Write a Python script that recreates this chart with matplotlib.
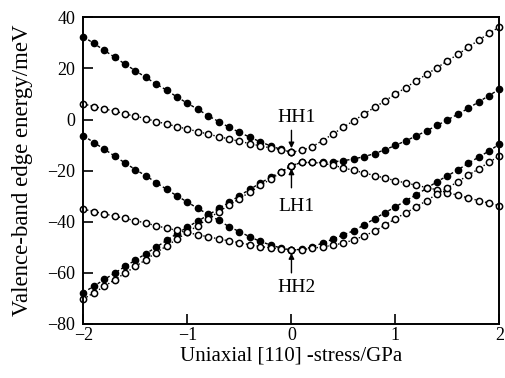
import numpy as np
import matplotlib
matplotlib.use("Agg")
import matplotlib.pyplot as plt

plt.rcParams['font.family'] = ['Liberation Serif', 'DejaVu Serif']

# stress grid, GPa (0.1 GPa steps)
stress_neg = np.round(np.linspace(-2.0, 0.0, 21), 1)
stress_pos = np.round(np.linspace(0.0, 2.0, 21), 1)

# compressive side (stress < 0), energies in meV
filled_hh1_neg = [32.4, 29.8, 27.1, 24.4, 21.7, 19.1, 16.5, 13.9, 11.5, 8.8, 6.4,
                  4.0, 1.5, -0.8, -3.0, -5.0, -6.9, -8.7, -10.3, -11.7, -12.8]
open_hh1_neg = [6.1, 5.1, 4.2, 3.3, 2.2, 1.3, 0.4, -0.8, -1.7, -2.8, -3.7,
                -4.7, -5.7, -6.7, -7.6, -8.5, -9.4, -10.3, -11.1, -11.9, -12.7]
filled_hh2_neg = [-6.3, -9.0, -11.6, -14.3, -17.0, -19.6, -22.0, -24.7, -27.3, -29.9, -32.3,
                  -34.8, -37.1, -39.5, -41.9, -43.9, -45.9, -47.7, -49.1, -50.3, -51.0]
open_hh2_neg = [-35.1, -36.0, -36.9, -37.8, -38.7, -39.6, -40.5, -41.6, -42.5, -43.4, -44.2,
                -45.1, -45.9, -46.7, -47.5, -48.2, -49.0, -49.7, -50.2, -50.6, -51.0]
filled_lh1_neg = [-67.7, -65.2, -62.6, -60.1, -57.5, -55.0, -52.5, -49.9, -47.3, -44.6, -42.1,
                  -39.7, -37.4, -34.8, -32.4, -29.8, -27.3, -24.9, -22.5, -20.5, -18.0]
open_lh1_neg = [-70.2, -67.8, -65.3, -62.7, -60.1, -57.5, -54.8, -52.1, -49.4, -46.8, -44.1,
                -41.5, -38.8, -36.1, -33.5, -30.9, -28.4, -25.8, -23.3, -20.7, -18.0]

# tensile side (stress > 0)
open_hh1_pos = [-12.7, -12.1, -10.6, -8.2, -5.6, -3.0, -0.4, 2.2, 4.8, 7.3, 10.0,
                12.5, 15.2, 17.7, 20.3, 23.0, 25.5, 28.3, 31.1, 33.7, 36.3]
filled_lh1_pos = [-18.0, -16.8, -16.8, -16.8, -16.5, -16.1, -15.4, -14.5, -13.3, -11.8, -10.1,
                  -8.3, -6.4, -4.4, -2.3, -0.1, 2.1, 4.4, 6.9, 9.4, 11.9]
open_lh1_pos = [-18.0, -16.8, -16.8, -17.1, -17.9, -18.9, -19.9, -20.9, -21.9, -22.9, -23.9,
                -24.8, -25.7, -26.6, -27.5, -28.6, -29.6, -30.7, -31.7, -32.7, -33.7]
filled_hh2_pos = [-51.0, -50.8, -49.9, -48.3, -46.8, -45.1, -43.5, -41.2, -38.8, -36.4, -34.2,
                  -31.7, -29.5, -26.9, -24.3, -22.0, -19.7, -17.1, -14.7, -12.3, -9.6]
open_hh2_pos = [-51.0, -50.9, -50.4, -49.8, -49.2, -48.3, -47.1, -45.5, -43.7, -41.3, -38.8,
                -36.5, -34.2, -31.7, -29.2, -26.8, -24.3, -21.8, -19.3, -16.7, -14.2]

filled_sets = [(stress_neg, filled_hh1_neg), (stress_neg, filled_hh2_neg),
               (stress_neg, filled_lh1_neg), (stress_pos, filled_lh1_pos),
               (stress_pos, filled_hh2_pos)]
open_sets = [(stress_neg, open_hh1_neg), (stress_neg, open_hh2_neg),
             (stress_neg, open_lh1_neg), (stress_pos, open_hh1_pos),
             (stress_pos, open_lh1_pos), (stress_pos, open_hh2_pos)]

fig = plt.figure(figsize=(5.06, 3.78), dpi=100)
ax = fig.add_axes([0.165, 0.143, 0.822, 0.811])

for xs, ys in filled_sets:
    ax.plot(xs, ys, color='black', lw=1.0, ls=(0, (2.2, 1.8)),
            marker='o', ms=4.5, mfc='black', mec='black', clip_on=False)
for xs, ys in open_sets:
    ax.plot(xs, ys, color='black', lw=1.0, ls=(0, (1, 1.6)),
            marker='o', ms=4.5, mfc='white', mec='black', mew=1.1, clip_on=False)

# band labels with arrows
arrow = dict(arrowstyle='-|>', color='black', lw=1.0, mutation_scale=8,
             shrinkA=0, shrinkB=0)
ax.annotate('', xy=(0, -11.2), xytext=(0, -4.2), arrowprops=arrow)
ax.text(0.05, 1.0, 'HH1', ha='center', va='center', fontsize=14)
ax.annotate('', xy=(0, -19.2), xytext=(0, -26.7), arrowprops=arrow)
ax.text(0.05, -34.2, 'LH1', ha='center', va='center', fontsize=14)
ax.annotate('', xy=(0, -52.3), xytext=(0, -60.0), arrowprops=arrow)
ax.text(0.05, -65.6, 'HH2', ha='center', va='center', fontsize=14)

ax.set_xlim(-2, 2)
ax.set_ylim(-80, 40)
ax.set_xticks([-2, -1, 0, 1, 2])
ax.set_yticks([-80, -60, -40, -20, 0, 20, 40])
ax.tick_params(direction='in', length=7, width=1.2, labelsize=13)
ax.tick_params(axis='x', pad=2)
ax.tick_params(axis='y', pad=6)
for s in ax.spines.values():
    s.set_linewidth(1.4)

ax.set_xlabel('Uniaxial [110] -stress/GPa', fontsize=15, labelpad=2)
ax.set_ylabel('Valence-band edge energy/meV', fontsize=16.5, labelpad=10)

fig.savefig('out.png', dpi=100)
